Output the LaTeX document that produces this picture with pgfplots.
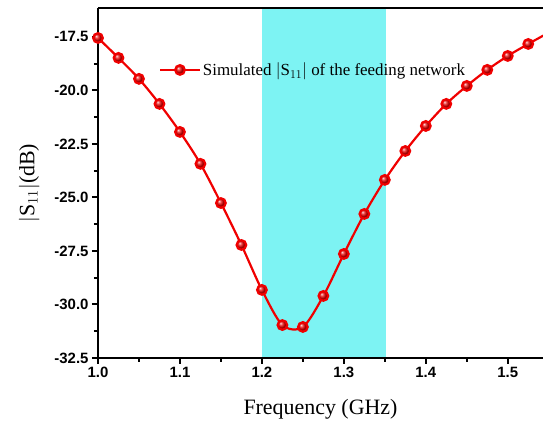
\documentclass[border=0pt]{standalone}
\usepackage{fontspec}
\setmainfont{Liberation Serif}
\setsansfont{Liberation Sans}
\usepackage{pgfplots}
\pgfplotsset{compat=1.18}
\usetikzlibrary{plotmarks}
\definecolor{band}{RGB}{125,243,243}
\definecolor{curve}{RGB}{240,0,0}
\begin{document}
\begin{tikzpicture}
\begin{axis}[
  scale only axis,
  width=445bp, height=350bp,
  xmin=1.0, xmax=1.543,
  ymin=-32.5, ymax=-16.15,
  axis x line*=bottom, axis y line*=left,
  axis line style={line width=2.6bp, -},
  xtick={1.0,1.1,1.2,1.3,1.4,1.5},
  ytick={-32.5,-30,-27.5,-25,-22.5,-20,-17.5},
  minor x tick num=1, minor y tick num=1,
  tick align=outside,
  major tick length=6bp, minor tick length=4bp,
  every tick/.style={line width=2bp, black},
  /pgf/number format/assume math mode=true,
  xticklabel style={/pgf/number format/.cd, fixed, fixed zerofill, precision=1},
  yticklabel style={/pgf/number format/.cd, fixed, fixed zerofill, precision=1},
  tick label style={font=\fontsize{15}{18}\selectfont\sffamily\bfseries},
  xlabel={Frequency (GHz)},
  ylabel={$|$S$_{11}|$(dB)},
  label style={font=\fontsize{22}{26}\selectfont},
  xlabel style={yshift=-14bp},
  ylabel style={yshift=8bp},
  clip=true,
  axis on top,
  legend style={at={(rel axis cs:0.13,0.823)}, anchor=west, draw=none, fill=none,
    font=\fontsize{17}{20}\selectfont},
  legend cell align=left,
]
\addplot[fill=band, draw=none, forget plot] coordinates {(1.2,-40) (1.352,-40) (1.352,0) (1.2,0)} -- cycle;
\addplot[color=curve, line width=2.2bp, smooth, tension=0.5, mark=ball, mark size=4.8bp,
  mark options={ball color=red!90!black},
  legend image code/.code={\draw[line width=2.2bp, color=curve] (0cm,0cm) -- (1.4cm,0cm);
    \shade[ball color=red!90!black] (0.7cm,0cm) circle (4.8bp);}]
  coordinates {
  (1.0,-17.55) (1.025,-18.48) (1.05,-19.46) (1.075,-20.63) (1.1,-21.94)
  (1.125,-23.43) (1.15,-25.26) (1.175,-27.22) (1.2,-29.32) (1.225,-30.96)
  (1.25,-31.05) (1.275,-29.6) (1.3,-27.64) (1.325,-25.77) (1.35,-24.18)
  (1.375,-22.83) (1.4,-21.66) (1.425,-20.63) (1.45,-19.79) (1.475,-19.04)
  (1.5,-18.39) (1.525,-17.83) (1.55,-17.3)
  };
\addlegendentry{Simulated $|$S$_{11}|$ of the feeding network}
\draw[line width=2.6bp] (rel axis cs:0,1) -- (rel axis cs:1,1);
\coordinate (sw) at (rel axis cs:0,0);
\coordinate (ne) at (rel axis cs:1,1);
\end{axis}
\pgfresetboundingbox
\path[use as bounding box] ([xshift=-98bp,yshift=-67bp]sw) rectangle ([yshift=8bp]ne);
\end{tikzpicture}
\end{document}
